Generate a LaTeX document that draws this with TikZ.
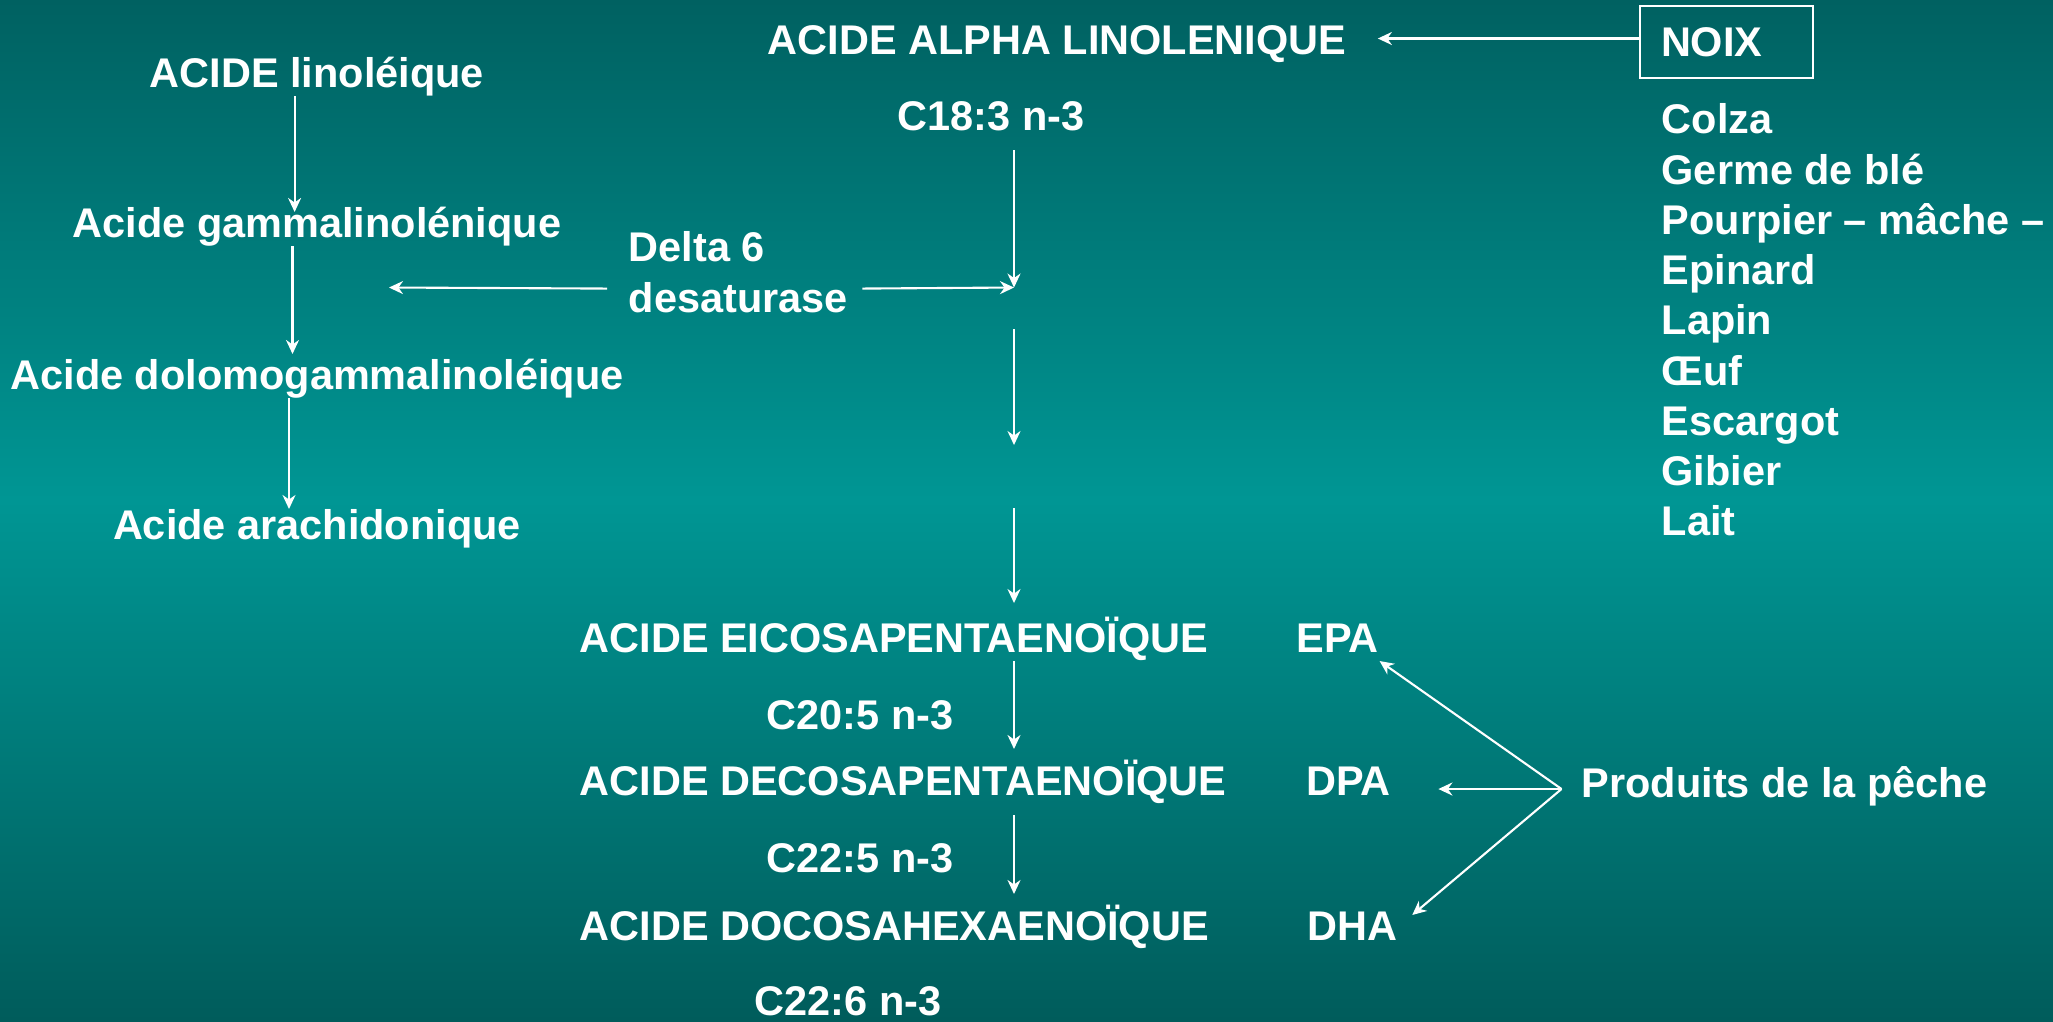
\documentclass[tikz,border=0pt]{standalone}
\usepackage{fontspec}
\setmainfont{Liberation Sans}
\usepackage{xcolor}
\usepackage{tikz}
\usetikzlibrary{arrows.meta, calc}

\definecolor{tealtop}{RGB}{0,97,97}
\definecolor{tealmid}{RGB}{0,150,148}
\definecolor{tealbot}{RGB}{0,92,91}

\begin{document}
\begin{tikzpicture}[
  font={\fontsize{11.8pt}{14.3pt}\selectfont\bfseries},
  txt/.style={text=white, inner sep=0pt, text height=0.72em, text depth=0.21em},
  multi/.style={text=white, inner sep=0pt, align=left, anchor=north west},
  srcbox/.style={draw=white, line width=0.6pt, text=white, align=left,
                 minimum width=17.3mm, minimum height=7.2mm, inner xsep=2.1mm,
                 inner ysep=0pt, text width=13.1mm},
  arrow/.style={-{Stealth[length=1.4mm, width=1.3mm]}, white, line width=0.6pt},
]
\useasboundingbox (0,0) rectangle (20.53,-10.21);
\fill[top color=tealtop, bottom color=tealmid] (0,0) rectangle (20.53,-5.0);
\fill[top color=tealmid, bottom color=tealbot] (0,-5.0) rectangle (20.53,-10.21);

\node[txt] (lin) at (3.17,-0.79) {ACIDE linoléique};
\node[txt] (gla) at (3.17,-2.29) {Acide gammalinolénique};
\node[txt] (dgla) at (3.17,-3.81) {Acide dolomogammalinoléique};
\node[txt] (ara) at (3.17,-5.31) {Acide arachidonique};
\node[multi] (delta) at (6.28,-2.31) {Delta 6\\desaturase};

\node[txt] (ala) at (10.57,-0.46) {ACIDE ALPHA LINOLENIQUE};
\node[txt] (c183) at (9.91,-1.22) {C18:3 n-3};
\node[srcbox] (noix) at (17.265,-0.42) {NOIX};
\node[multi] (sources) at (16.61,-1.03) {Colza\\Germe de blé\\Pourpier – mâche –\\Epinard\\Lapin\\Œuf\\Escargot\\Gibier\\Lait};

\node[txt, anchor=west] (eicosa) at (5.79,-6.44) {ACIDE EICOSAPENTAENOÏQUE};
\node[txt, anchor=west] (epa) at (12.96,-6.44) {EPA};
\node[txt] (c205) at (8.60,-7.21) {C20:5 n-3};
\node[txt, anchor=west] (decosa) at (5.79,-7.87) {ACIDE DECOSAPENTAENOÏQUE};
\node[txt, anchor=west] (dpa) at (13.055,-7.87) {DPA};
\node[txt] (c225) at (8.60,-8.64) {C22:5 n-3};
\node[txt, anchor=west] (docosa) at (5.79,-9.32) {ACIDE DOCOSAHEXAENOÏQUE};
\node[txt, anchor=west] (dha) at (13.07,-9.32) {DHA};
\node[txt] (c226) at (8.48,-10.07) {C22:6 n-3};
\node[txt, anchor=west] (peche) at (15.81,-7.89) {Produits de la pêche};

\coordinate (junction) at (10.14,-2.875);
\coordinate (gltip) at (3.89,-2.875);
\coordinate (mid1) at (10.14,-3.29);
\coordinate (mid2) at (10.14,-4.45);
\coordinate (mid3) at (10.14,-5.08);
\coordinate (mid4) at (10.14,-6.03);
\coordinate (fan) at ([xshift=-1.95mm]peche.west);

\draw[arrow] ([xshift=-2.24mm]lin.south) -- ([xshift=-2.24mm]gla.north);
\draw[arrow, shorten >=1mm] ([xshift=-2.45mm]gla.south) -- ([xshift=-2.45mm]dgla.north);
\draw[arrow, shorten >=0.5mm] ([xshift=-2.8mm]dgla.south) -- ([xshift=-2.8mm]ara.north);
\draw[arrow] ([shift={(-2.1mm,-1.65mm)}]delta.west) -- (gltip);
\draw[arrow] ([shift={(1.4mm,-1.65mm)}]delta.east) -- (junction);
\draw[arrow, shorten <=1.1mm] (c183.south -| junction) -- (junction);
\draw[arrow] (mid1) -- (mid2);
\draw[arrow] (mid3) -- (mid4);
\draw[arrow, shorten >=2.1mm] (eicosa.south -| junction) -- (decosa.north -| junction);
\draw[arrow, shorten <=1.1mm, shorten >=2.1mm] (decosa.south -| junction) -- (docosa.north -| junction);
\draw[arrow, shorten >=3.1mm] ([yshift=0.35mm]noix.west) -- ([yshift=0.35mm]ala.east |- noix.west);
\draw[arrow] (fan) -- (epa.south east);
\draw[arrow, shorten >=4.7mm] (fan) -- (dpa.east |- fan);
\draw[arrow] (fan) -- ([xshift=1.4mm]dha.north east);
\end{tikzpicture}
\end{document}
